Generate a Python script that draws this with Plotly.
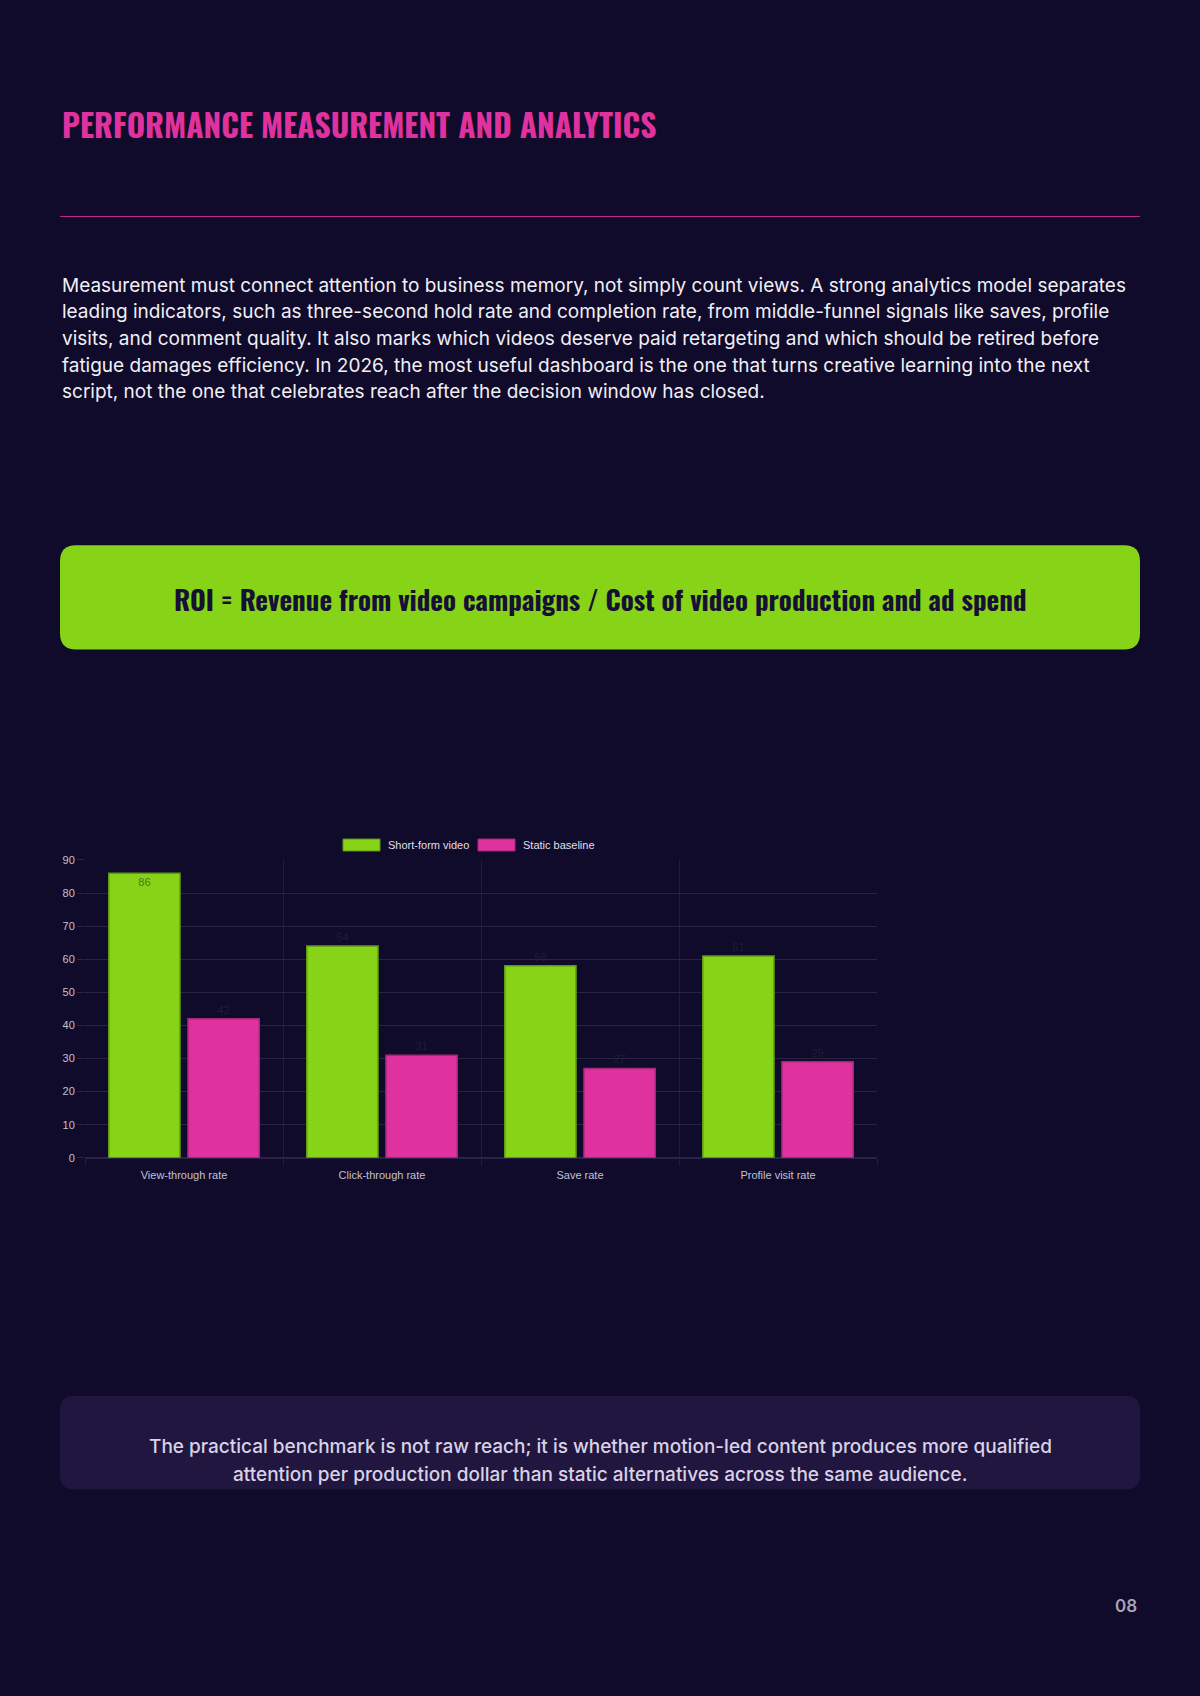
"""performance measurement page: short-form video vs static baseline"""

import plotly.graph_objects as go

W, H = 1200, 1696

# chart data
categories = ["View-through rate", "Click-through rate", "Save rate", "Profile visit rate"]
short_form = [86, 64, 58, 61]
static_base = [42, 31, 27, 29]
series_names = ["Short-form video", "Static baseline"]
y_ticks = [0, 10, 20, 30, 40, 50, 60, 70, 80, 90]

# page text
title = "PERFORMANCE MEASUREMENT AND ANALYTICS"
paragraph = [
    "Measurement must connect attention to business memory, not simply count views. A strong analytics model separates",
    "leading indicators, such as three-second hold rate and completion rate, from middle-funnel signals like saves, profile",
    "visits, and comment quality. It also marks which videos deserve paid retargeting and which should be retired before",
    "fatigue damages efficiency. In 2026, the most useful dashboard is the one that turns creative learning into the next",
    "script, not the one that celebrates reach after the decision window has closed.",
]
formula = "ROI = Revenue from video campaigns / Cost of video production and ad spend"
note = [
    "The practical benchmark is not raw reach; it is whether motion-led content produces more qualified",
    "attention per production dollar than static alternatives across the same audience.",
]
page_no = "08"

BG = "#100b2a"
PINK = "#e0329f"
GREEN = "#87d317"
GRID = "#2a2347"
COND = "Oswald, 'Liberation Sans Narrow', 'DejaVu Sans Condensed', sans-serif"
BODY = "Inter, 'Noto Sans', sans-serif"
CHART_FONT = "Arial, 'Liberation Sans', sans-serif"


def px(x):
    return x / W


def py(y):
    return 1 - y / H


def rounded_rect(x0, y0, x1, y1, r):
    # path in paper coords from pixel corners
    pts = [
        f"M {px(x0 + r)} {py(y0)}",
        f"L {px(x1 - r)} {py(y0)}",
        f"Q {px(x1)} {py(y0)} {px(x1)} {py(y0 + r)}",
        f"L {px(x1)} {py(y1 - r)}",
        f"Q {px(x1)} {py(y1)} {px(x1 - r)} {py(y1)}",
        f"L {px(x0 + r)} {py(y1)}",
        f"Q {px(x0)} {py(y1)} {px(x0)} {py(y1 - r)}",
        f"L {px(x0)} {py(y0 + r)}",
        f"Q {px(x0)} {py(y0)} {px(x0 + r)} {py(y0)}",
        "Z",
    ]
    return " ".join(pts)


fig = go.Figure()

label_color = "rgba(42,42,58,0.6)"
fig.add_trace(
    go.Bar(
        x=categories,
        y=short_form,
        name=series_names[0],
        marker=dict(color=GREEN, line=dict(color="#5e9a14", width=1.5)),
        text=short_form,
        textposition=["inside" if v > 80 else "outside" for v in short_form],
        insidetextanchor="end",
        textfont=dict(size=11, color=label_color, family=CHART_FONT),
        cliponaxis=False,
        showlegend=False,
    )
)
fig.add_trace(
    go.Bar(
        x=categories,
        y=static_base,
        name=series_names[1],
        marker=dict(color=PINK, line=dict(color="#a8267a", width=1.5)),
        text=static_base,
        textposition="outside",
        textfont=dict(size=11, color=label_color, family=CHART_FONT),
        cliponaxis=False,
        showlegend=False,
    )
)

fig.update_layout(
    width=W,
    height=H,
    margin=dict(l=0, r=0, t=0, b=0),
    paper_bgcolor=BG,
    plot_bgcolor=BG,
    barmode="group",
    bargap=0.2,
    bargroupgap=0.1,
    showlegend=False,
    xaxis=dict(
        domain=[px(85), px(877)],
        tickson="boundaries",
        showgrid=True,
        gridcolor="#221b3e",
        ticks="outside",
        ticklen=7,
        tickcolor="#221b3e",
        ticklabelstandoff=9,
        showline=False,
        tickfont=dict(size=11, color="#c4c0d0", family=CHART_FONT),
        fixedrange=True,
    ),
    yaxis=dict(
        domain=[py(1160), py(860)],
        range=[0, 90],
        tickvals=y_ticks,
        showgrid=True,
        gridcolor=GRID,
        zeroline=True,
        zerolinecolor=GRID,
        ticks="outside",
        ticklen=7,
        tickcolor=GRID,
        tickfont=dict(size=11, color="#c4c0d0", family=CHART_FONT),
        fixedrange=True,
    ),
)

shapes = [
    # rule under title
    dict(type="line", xref="paper", yref="paper", x0=px(60), x1=px(1140), y0=py(212), y1=py(212),
         line=dict(color="#c4288c", width=1.2)),
    # formula box
    dict(type="path", xref="paper", yref="paper", path=rounded_rect(60, 543, 1140, 648, 16),
         fillcolor=GREEN, line=dict(width=0), layer="below"),
    # note box
    dict(type="path", xref="paper", yref="paper", path=rounded_rect(60, 1400, 1140, 1494, 14),
         fillcolor="#21163f", line=dict(width=0), layer="below"),
    # legend swatches
    dict(type="rect", xref="paper", yref="paper", x0=px(343), x1=px(380), y0=py(839), y1=py(851),
         fillcolor=GREEN, line=dict(color="#5e9a14", width=1)),
    dict(type="rect", xref="paper", yref="paper", x0=px(478), x1=px(515), y0=py(839), y1=py(851),
         fillcolor=PINK, line=dict(color="#a8267a", width=1)),
]

annotations = [
    dict(text=f"<b>{title}</b>", x=px(60), y=py(118), xanchor="left", yanchor="middle",
         font=dict(family=COND, size=31.5, color=PINK)),
    dict(text=f"<b>{formula}</b>", x=px(600), y=py(597), xanchor="center", yanchor="middle",
         font=dict(family=COND, size=27, color="#161034")),
    dict(text=series_names[0], x=px(386), y=py(845), xanchor="left", yanchor="middle",
         font=dict(family=CHART_FONT, size=11, color="#e2dfea")),
    dict(text=series_names[1], x=px(521), y=py(845), xanchor="left", yanchor="middle",
         font=dict(family=CHART_FONT, size=11, color="#e2dfea")),
    dict(text=page_no, x=px(1139), y=py(1611), xanchor="right", yanchor="middle",
         font=dict(family=BODY, size=17, color="#a8a4b8", weight=600)),
]

line_y = [281, 308, 335, 362, 388]
for yy, line in zip(line_y, paragraph):
    annotations.append(
        dict(text=line, x=px(60), y=py(yy), xanchor="left", yanchor="middle",
             font=dict(family=BODY, size=19, color="#f1eff6"))
    )

for yy, line in zip([1451, 1479], note):
    annotations.append(
        dict(text=line, x=px(600), y=py(yy), xanchor="center", yanchor="middle",
             font=dict(family=BODY, size=19, color="#d8d2e6", weight=500))
    )

for a in annotations:
    a.update(xref="paper", yref="paper", showarrow=False)

fig.update_layout(shapes=shapes, annotations=annotations)

# drop the default page margin so the figure fills the window
fig.write_html(
    "out.html",
    config={"displayModeBar": False},
    post_script="document.body.style.margin='0';document.body.style.background='#100b2a';",
)
